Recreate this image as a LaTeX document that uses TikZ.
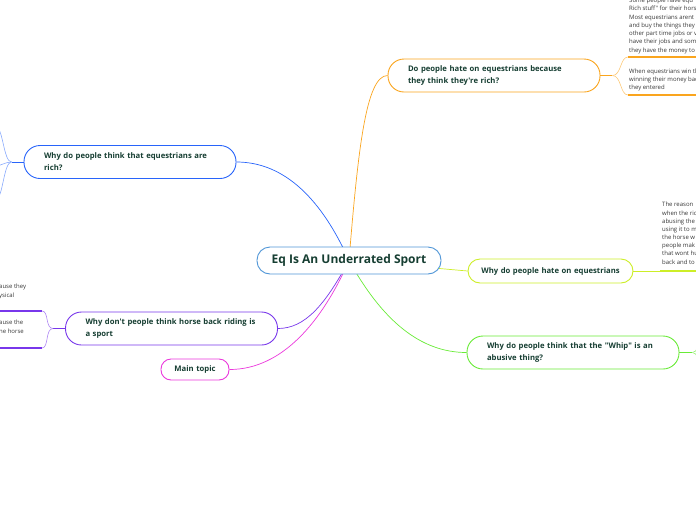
\documentclass[tikz,border=0pt]{standalone}
\usepackage{fontspec}
\setmainfont{Open Sans}[Ligatures=TeXOff]
\usetikzlibrary{positioning}
\definecolor{centb}{RGB}{80,150,215}
\definecolor{orangeb}{RGB}{250,165,30}
\definecolor{limeb}{RGB}{205,238,40}
\definecolor{greenb}{RGB}{105,235,55}
\definecolor{blueb}{RGB}{40,100,250}
\definecolor{purpleb}{RGB}{120,55,235}
\definecolor{magb}{RGB}{235,55,220}
\definecolor{ink}{RGB}{22,62,50}
\definecolor{subink}{RGB}{55,55,55}
\pgfdeclarelayer{back}
\pgfsetlayers{back,main}
\begin{document}
\begin{tikzpicture}[x=1pt,y=-1pt,
 topic/.style={draw,line width=0.9pt,fill=white,rounded corners=16pt,minimum height=33pt,
 text width=172pt,inner xsep=20pt,inner ysep=0pt,align=left,text=ink,
 font=\fontsize{7.7}{12}\selectfont\bfseries},
 sub/.style={anchor=north west,inner sep=0pt,align=left,text=subink,
 font=\fontsize{6}{8.25}\selectfont},
 link/.style={line width=0.7pt},
 uline/.style={line width=1.4pt},
 brace/.style={line width=0.6pt}]
\useasboundingbox (0,0) rectangle (696,520);
\clip (0,0) rectangle (696,520);
% central topic and main branches
\node[draw=centb,line width=0.9pt,fill=white,rounded corners=13pt,minimum width=184pt,
 minimum height=27pt,inner sep=0pt,text=ink,font=\fontsize{12}{14}\selectfont\bfseries]
 (c) at (349,260.5) {Eq Is An Underrated Sport};
\node[topic,draw=orangeb] (o) at (494,75.5) {Do people hate on equestrians because\\they think they're rich?};
\node[topic,draw=blueb] (b) at (130,162) {Why do people think that equestrians are\\rich?};
\node[topic,draw=purpleb] (p) at (171.5,328.5) {Why don't people think horse back riding is\\a sport};
\node[topic,draw=greenb] (g) at (573,352.5) {Why do people think that the "Whip" is an\\abusive thing?};
\node[topic,draw=limeb,text width=139pt,inner xsep=13pt,minimum height=24pt,
 rounded corners=12pt,align=center] (l) at (550.5,271) {Why do people hate on equestrians};
\node[topic,draw=magb,text width=48pt,inner xsep=10pt,minimum height=21pt,
 rounded corners=10pt,align=center] (m) at (195,369.5) {Main topic};
% subtopics
\node[sub] (o1) at (629,-2.1) {Some people have equ\\Rich stuff" for their hors\\Most equestrians arent\\and buy the things they\\other part time jobs or v\\have their jobs and som\\they have the money to};
\node[sub,font=\fontsize{6}{8}\selectfont] (o2) at (629,69.2) {When equestrians win th\\winning their money bac\\they entered};
\node[sub,font=\fontsize{6}{8.15}\selectfont] (l1) at (662,202.2) {The reason\\when the ric\\abusing the\\using it to m\\the horse w\\people mak\\that wont hu\\back and to};
\node[sub,font=\fontsize{6}{8.5}\selectfont] (p1) at (-1,283.8) {ause they\\ysical};
\node[sub,font=\fontsize{6}{8.5}\selectfont] (p2) at (-1,319.8) {ause the\\ne horse};
% connectors
\begin{pgfonlayer}{back}
\draw[link,orangeb] (c.center) .. controls (358,150) and (366,75.5) .. (o.west);
\draw[link,blueb] (c.center) .. controls (322,200) and (285,162) .. (b.east);
\draw[link,purpleb] (c.center) .. controls (325,305) and (305,328.5) .. (p.east);
\draw[link,magb] (c.center) .. controls (322,322) and (282,369.5) .. (m.east);
\draw[link,greenb] (c.center) .. controls (382,320) and (420,352.5) .. (g.west);
\draw[link,limeb] (c.center) -- (l.west);
\end{pgfonlayer}
% braces and underlines
\coordinate (o1s) at (628,57);
\coordinate (o2s) at (628,95);
\draw[link,orangeb] (o.east) -- ++(12,0) coordinate (ob);
\draw[brace,orangeb!60] (ob) .. controls +(9,0) and +(-8,0) .. (o1s);
\draw[brace,orangeb!60] (ob) .. controls +(9,0) and +(-8,0) .. (o2s);
\draw[uline,orangeb] (o1s) -- (700,57);
\draw[uline,orangeb] (o2s) -- (700,95);
\coordinate (l1s) at (660,271);
\draw[link,limeb] (l.east) -- (l1s);
\draw[uline,limeb] (l1s) -- (700,271);
\draw[link,greenb] (g.east) -- ++(13,0) coordinate (gb);
\draw[brace,greenb!70] (gb) .. controls +(6,0) and +(-3,5) .. (700,338);
\draw[brace,greenb!70] (gb) .. controls +(6,0) and +(-3,-5) .. (700,367);
\draw[link,blueb] (b.west) -- ++(-12,0) coordinate (bb);
\draw[brace,blueb!55] (bb) .. controls +(-8,0) and +(7,0) .. (-4,127);
\draw[brace,blueb!55] (bb) .. controls +(-6,0) and +(4,0) .. (-4,166);
\draw[brace,blueb!55] (bb) .. controls +(-8,0) and +(7,0) .. (-4,199);
\coordinate (p1s) at (42,311);
\coordinate (p2s) at (42,348);
\draw[link,purpleb] (p.west) -- ++(-12,0) coordinate (pb);
\draw[brace,purpleb!60] (pb) .. controls +(-8,0) and +(7,0) .. (p1s);
\draw[brace,purpleb!60] (pb) .. controls +(-8,0) and +(7,0) .. (p2s);
\draw[uline,purpleb] (p1s) -- (-4,311);
\draw[uline,purpleb] (p2s) -- (-4,348);
\end{tikzpicture}
\end{document}
